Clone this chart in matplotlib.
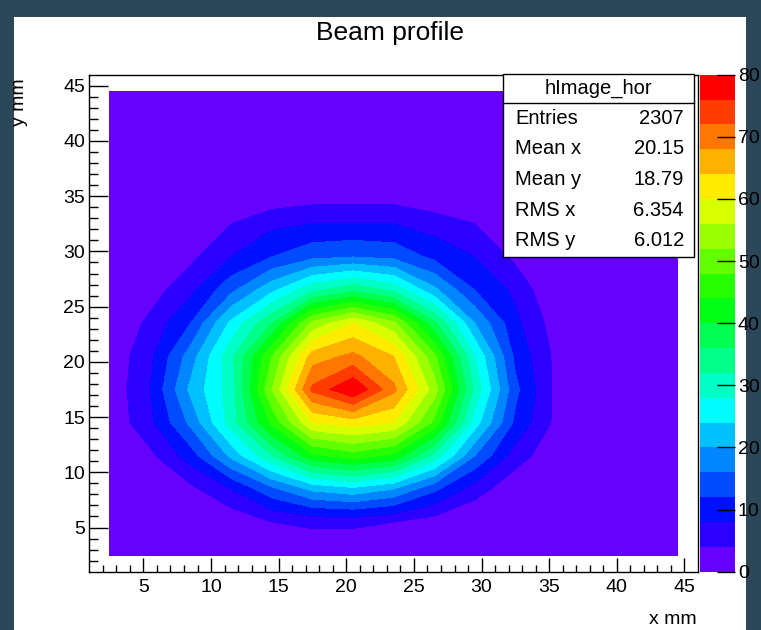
import numpy as np
import matplotlib
matplotlib.use('Agg')
import matplotlib.pyplot as plt
from matplotlib.patches import Rectangle
from matplotlib.lines import Line2D

# 3 mm bins from 1 to 46 mm, bin centres
x_centers = np.arange(2.5, 45, 3)
y_centers = np.arange(2.5, 45, 3)

# counts per bin, rows from top (y = 44.5) to bottom (y = 2.5)
counts = [
    [0, 0, 0, 0, 0, 0, 0, 0, 0, 0, 0, 0, 0, 0, 0],
    [0, 0, 0, 0, 0, 0, 0, 0, 0, 0, 0, 0, 0, 0, 0],
    [0, 0, 0, 0, 0, 0, 0, 0, 0, 0, 0, 0, 0, 0, 0],
    [0, 0, 0, 0, 0, 1, 1, 1, 0, 0, 0, 0, 0, 0, 0],
    [0, 0, 0, 4, 7, 8, 8, 8, 6, 4, 0, 0, 0, 0, 0],
    [0, 0, 3, 8, 12, 15, 16, 15, 11, 8, 3, 0, 0, 0, 0],
    [0, 2, 7, 15, 23, 31, 35, 31, 21, 12, 7, 0, 0, 0, 0],
    [0, 5, 12, 25, 36, 53, 60, 53, 37, 20, 9, 2, 0, 0, 0],
    [1, 7, 18, 31, 48, 66, 69, 64, 49, 28, 11, 3, 0, 0, 0],
    [1, 8, 21, 30, 52, 73, 80, 69, 54, 31, 13, 3, 0, 0, 0],
    [1, 7, 17, 30, 45, 60, 62, 60, 47, 26, 11, 3, 0, 0, 0],
    [0, 3, 10, 21, 32, 43, 46, 43, 31, 16, 6, 1, 0, 0, 0],
    [0, 0, 3, 8, 15, 21, 23, 20, 13, 6, 1, 0, 0, 0, 0],
    [0, 0, 0, 1, 4, 5, 5, 4, 2, 0, 0, 0, 0, 0, 0],
    [0, 0, 0, 0, 0, 0, 0, 0, 0, 0, 0, 0, 0, 0, 0],
]

stat_names = ['Entries', 'Mean x', 'Mean y', 'RMS x', 'RMS y']
stat_values = ['2307', '20.15', '18.79', '6.354', '6.012']

# ROOT "pretty" palette, 20 contour bands
palette = ['#6600ff', '#2b00ff', '#0010ff', '#004bff', '#0086ff', '#00c1ff',
           '#00fcff', '#00ffc6', '#00ff8b', '#00ff50', '#00ff15', '#26ff00',
           '#61ff00', '#9cff00', '#d7ff00', '#ffec00', '#ffb100', '#ff7600',
           '#ff3b00', '#ff0000']
levels = np.arange(0, 84, 4)

W, H = 761, 630
plt.rcParams['font.family'] = ['Liberation Sans', 'DejaVu Sans']
fig = plt.figure(figsize=(W / 100, H / 100), dpi=100, facecolor='#2c4757')
fig.patches.append(Rectangle((14 / W, 0), 732 / W, 613 / H, transform=fig.transFigure,
                             facecolor='white', edgecolor='none', zorder=-10))

z = np.array(counts, dtype=float)[::-1]

ax = fig.add_axes([89.3 / W, 1 - 571.7 / H, 608.7 / W, 497 / H], zorder=1)
cs = ax.contourf(x_centers, y_centers, z, levels=levels, colors=palette)
ax.set_xlim(1, 46)
ax.set_ylim(1, 46)
ax.set_xticks(np.arange(5, 46, 5))
ax.set_yticks(np.arange(5, 46, 5))
ax.set_xticks(np.arange(2, 46, 1), minor=True)
ax.set_yticks(np.arange(2, 46, 1), minor=True)
ax.tick_params(axis='x', which='major', direction='in', length=10, width=1, labelsize=14, pad=5)
ax.tick_params(axis='x', which='minor', direction='in', length=5, width=1)
ax.tick_params(axis='y', which='major', direction='in', length=14, width=1, labelsize=14, pad=3)
ax.tick_params(axis='y', which='minor', direction='in', length=6.5, width=1)
for sp in ax.spines.values():
    sp.set_linewidth(1)

cax = fig.add_axes([700 / W, 1 - 571.7 / H, 35 / W, 497 / H], zorder=1)
cb = fig.colorbar(cs, cax=cax, ticks=np.arange(0, 81, 10))
cb.outline.set_visible(False)
cax.tick_params(direction='in', length=13, width=1, labelsize=14, pad=2)
cax.minorticks_off()

fig.text(390 / W, 1 - 33 / H, 'Beam profile', ha='center', va='center', fontsize=19)
fig.text(697 / W, 1 - 620 / H, 'x mm', ha='right', va='center', fontsize=14)
fig.text(19 / W, 1 - 78 / H, 'y mm', ha='center', va='top', rotation=90, fontsize=14)

# stats box
bx0, bx1, by0, by1 = 503, 694, 74, 256.7
fig.patches.append(Rectangle((bx0 / W, 1 - by1 / H), (bx1 - bx0) / W, (by1 - by0) / H,
                             transform=fig.transFigure, facecolor='white', edgecolor='black',
                             linewidth=1, zorder=5))
fig.lines.append(Line2D([bx0 / W, bx1 / W], [1 - 103 / H] * 2, transform=fig.transFigure,
                        color='black', linewidth=1, zorder=6))
fig.text((bx0 + bx1) / 2 / W, 1 - 88.5 / H, 'hImage_hor', ha='center', va='center',
         fontsize=14.5, zorder=7)
for k, (n, v) in enumerate(zip(stat_names, stat_values)):
    yy = 1 - (118.3 + 30.6 * k) / H
    fig.text(515 / W, yy, n, ha='left', va='center', fontsize=14.5, zorder=7)
    fig.text(684 / W, yy, v, ha='right', va='center', fontsize=14.5, zorder=7)

fig.savefig('out.png', dpi=100, facecolor=fig.get_facecolor())
